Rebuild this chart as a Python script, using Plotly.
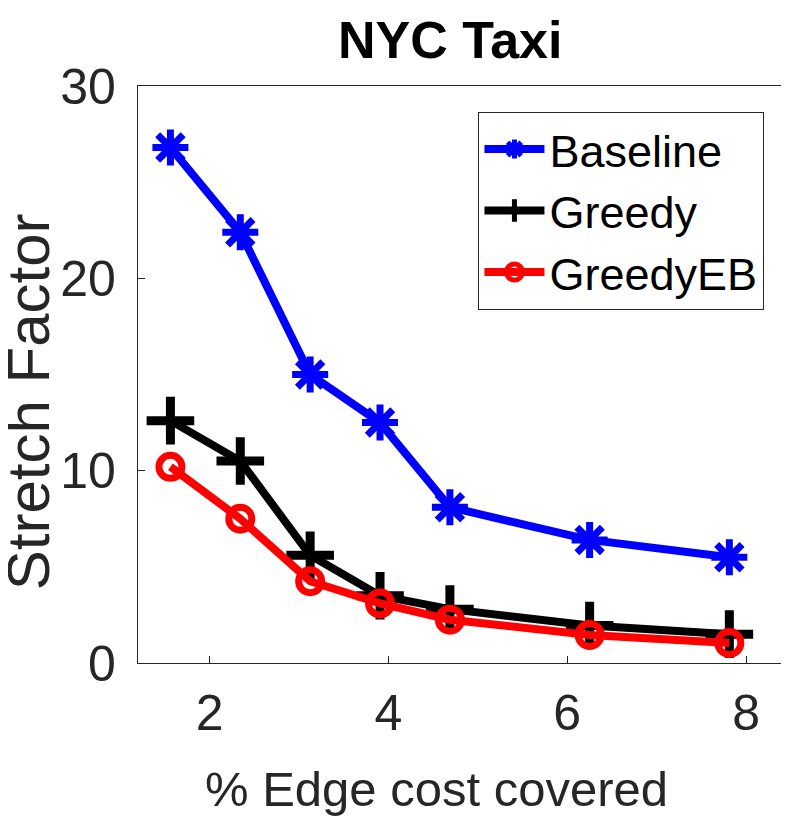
import plotly.graph_objects as go

# % of edge cost covered
edge_cost = [1.5625, 2.34375, 3.125, 3.90625, 4.6875, 6.25, 7.8125]

baseline = [26.8, 22.4, 15.0, 12.5, 8.1, 6.4, 5.5]
greedy = [12.6, 10.5, 5.6, 3.5, 2.8, 1.95, 1.5]
greedy_eb = [10.2, 7.5, 4.25, 3.1, 2.25, 1.46, 1.04]

xticks = [2, 4, 6, 8]
yticks = [0, 10, 20, 30]

FONT = "Liberation Sans, Arial, Helvetica, sans-serif"
AX = "#262626"

fig = go.Figure()

fig.add_trace(go.Scatter(
    x=edge_cost, y=baseline, name="Baseline", mode="lines+markers",
    line=dict(color="#0000ff", width=8),
    marker=dict(symbol="asterisk", size=30, color="#0000ff",
                line=dict(color="#0000ff", width=7))
))
fig.add_trace(go.Scatter(
    x=edge_cost, y=greedy, name="Greedy", mode="lines+markers",
    line=dict(color="black", width=8),
    marker=dict(symbol="cross-thin-open", size=34, color="black",
                line=dict(color="black", width=9))
))
fig.add_trace(go.Scatter(
    x=edge_cost, y=greedy_eb, name="GreedyEB", mode="lines+markers",
    line=dict(color="#ff0000", width=8),
    marker=dict(symbol="circle-open", size=23, color="#ff0000",
                line=dict(color="#ff0000", width=7))
))

# page body adds 8px around the figure, so the figure is 16px smaller than the window
fig.update_layout(
    width=773, height=814,
    margin=dict(l=130, r=0, t=78, b=159, autoexpand=False),
    paper_bgcolor="white", plot_bgcolor="white",
    showlegend=True,
    legend=dict(
        x=0.529, y=0.955, xanchor="left", yanchor="top",
        bgcolor="white", bordercolor=AX, borderwidth=1.3,
        font=dict(family=FONT, size=45, color="black"),
        itemwidth=60, tracegroupgap=0,
    ),
    annotations=[
        dict(text="<b>NYC Taxi</b>", xref="paper", yref="paper",
             x=0.485, y=1.0, yshift=46, xanchor="center", yanchor="middle",
             showarrow=False, font=dict(family=FONT, size=52, color="black")),
        dict(text="% Edge cost covered", xref="paper", yref="paper",
             x=0.465, y=0, yshift=-126, xanchor="center", yanchor="middle",
             showarrow=False, font=dict(family=FONT, size=49, color=AX)),
        dict(text="Stretch Factor", xref="paper", yref="paper",
             x=0, xshift=-110, y=0.452, xanchor="center", yanchor="middle",
             textangle=-90, showarrow=False,
             font=dict(family=FONT, size=60, color=AX)),
    ],
)

fig.update_xaxes(
    range=[1.2, 8.39], tickvals=xticks, showgrid=False, zeroline=False,
    showline=True, linecolor=AX, linewidth=1.3, mirror=True,
    ticks="inside", ticklen=7, tickwidth=1.3, tickcolor=AX,
    tickfont=dict(family=FONT, size=50, color=AX), ticklabelstandoff=6,
)
fig.update_yaxes(
    range=[0, 30], tickvals=yticks, showgrid=False, zeroline=False,
    showline=True, linecolor=AX, linewidth=1.3, mirror=False,
    ticks="inside", ticklen=7, tickwidth=1.3, tickcolor=AX,
    tickfont=dict(family=FONT, size=50, color=AX), ticklabelstandoff=11,
)

fig.write_html("out.html")
